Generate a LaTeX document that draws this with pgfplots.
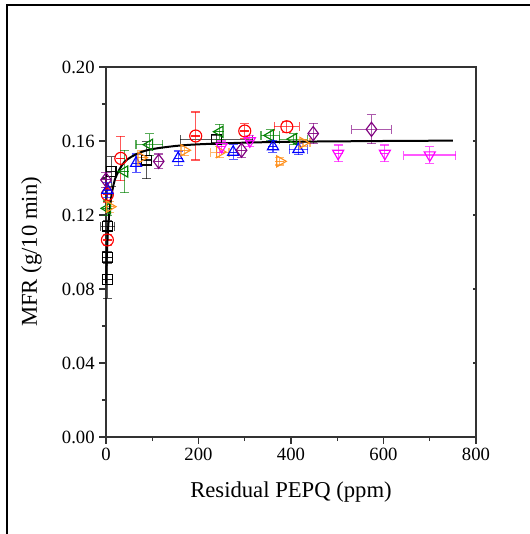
\documentclass[border=0pt]{standalone}
\usepackage{fontspec}
\setmainfont{Liberation Serif}
\usepackage{pgfplots}
\pgfplotsset{compat=1.18}
\definecolor{cred}{RGB}{255,0,0}
\definecolor{cgreen}{RGB}{0,128,0}
\definecolor{cblue}{RGB}{0,0,255}
\definecolor{corange}{RGB}{255,145,30}
\definecolor{cpurple}{RGB}{128,0,128}
\definecolor{cmag}{RGB}{255,0,255}
\pgfplotsset{
  ser/.style={only marks, line width=0.85pt, mark options={solid, line width=0.85pt, fill=none},
    error bars/x dir=both, error bars/x explicit, error bars/y dir=both, error bars/y explicit,
    error bars/error bar style={line width=0.85pt, opacity=0.65},
    error bars/error mark options={rotate=90, mark size=3.4pt, line width=0.85pt, opacity=0.65}},
}
\begin{document}
\begin{tikzpicture}
\useasboundingbox (-79.5pt,-72.75pt) rectangle (317.25pt,327.75pt);
\draw[line width=1.5pt] (-74.25pt,-80pt) -- (-74.25pt,324pt) -- (330pt,324pt);
\begin{axis}[at={(0,0)}, anchor=south west, scale only axis,
  width=277.5pt, height=277.5pt,
  xmin=0, xmax=800, ymin=0, ymax=0.2,
  xtick={0,200,400,600,800}, ytick={0,0.04,0.08,0.12,0.16,0.2},
  minor x tick num=1, minor y tick num=1,
  tick align=outside, xtick pos=left, ytick pos=left,
  major tick length=5pt, minor tick length=3pt,
  tick style={line width=0.8pt, color=black!80},
  axis line style={line width=0.9pt, color=black!80},
  scaled y ticks=false,
  yticklabel style={/pgf/number format/fixed, /pgf/number format/fixed zerofill, /pgf/number format/precision=2},
  /pgf/number format/assume math mode=true,
  ticklabel style={font=\fontsize{14}{16}\selectfont},
  label style={font=\fontsize{17}{20}\selectfont},
  xlabel={Residual PEPQ (ppm)}, ylabel={MFR (g/10 min)},
  xlabel style={at={(axis description cs:0.5,-0.1477)}, anchor=center},
  ylabel style={at={(axis description cs:-0.2018,0.5)}, anchor=center},
  clip=false,
]
% black squares
\addplot[ser, color=black, mark=square, mark size=3.7pt] table[x=x,y=y,x error=ex,y error=ey] {
x y ex ey
3 0.085 0 0.010
3 0.097 0 0.003
4 0.114 15 0.003
11 0.1434 0 0.008
87 0.1497 0 0.010
239 0.161 78 0.002
};
% red circles
\addplot[ser, color=cred, mark=o, mark size=4.5pt] table[x=x,y=y,x error=ex,y error=ey] {
x y ex ey
3 0.1065 0 0.003
3 0.131 0 0.004
32 0.1506 0 0.012
194 0.1627 0 0.013
300 0.1654 0 0.004
391 0.1677 27 0.003
};
% green left triangles
\addplot[ser, color=cgreen, mark=triangle, mark size=4.8pt, mark options={rotate=90}] table[x=x,y=y,x error=ex,y error=ey] {
x y ex ey
3 0.1236 0 0.004
40 0.1435 0 0.0115
94 0.158 29 0.006
246 0.165 0 0.004
355 0.163 20 0.003
405 0.161 30 0.003
};
% blue up triangles
\addplot[ser, color=cblue, mark=triangle, mark size=4.8pt] table[x=x,y=y,x error=ex,y error=ey] {
x y ex ey
3 0.1335 0 0.004
65 0.148 0 0.005
156 0.1506 0 0.004
275 0.154 0 0.004
361 0.157 0 0.003
416 0.1555 20 0.003
};
% orange right triangles
\addplot[ser, color=corange, mark=triangle, mark size=4.8pt, mark options={rotate=-90}] table[x=x,y=y,x error=ex,y error=ey] {
x y ex ey
8 0.1245 0 0.003
76 0.151 0 0.004
169 0.155 0 0.003
246 0.154 20 0.003
376 0.149 0 0.002
426 0.159 15 0.002
};
% purple diamonds
\addplot[ser, color=cpurple, mark=diamond, mark size=5.3pt] table[x=x,y=y,x error=ex,y error=ey] {
x y ex ey
0 0.139 0 0.004
114 0.149 0 0.004
293 0.155 0 0.004
448 0.164 0 0.0055
574 0.1663 43 0.0078
};
% magenta down triangles
\addplot[ser, color=cmag, mark=triangle, mark size=4.8pt, mark options={rotate=180}] table[x=x,y=y,x error=ex,y error=ey] {
x y ex ey
250 0.157 0 0.003
311 0.160 0 0.003
502 0.1533 0 0.0045
603 0.1533 0 0.0045
700 0.1524 56 0.0045
};
% fit curve
\addplot[black, line width=1.5pt, smooth, no marks] coordinates {
(0,0.083) (2,0.0994) (5,0.1142) (10,0.1276) (20,0.1397) (40,0.1487) (70,0.1534) (100,0.1556) (150,0.1573) (200,0.1582) (300,0.1591) (400,0.1596) (500,0.1598) (600,0.1600) (750,0.1602)
};
\end{axis}
\begin{axis}[at={(0,0)}, anchor=south west, scale only axis,
  width=277.5pt, height=277.5pt,
  xmin=0, xmax=800, ymin=0, ymax=0.2,
  axis y line*=right, axis x line=none,
  ytick={0,0.04,0.08,0.12,0.16,0.2}, yticklabels={},
  tick align=inside, major tick length=2.5pt,
  tick style={line width=0.8pt, color=black!80},
  axis line style={line width=0.9pt, color=black!80},
]
\end{axis}
\draw[line width=0.9pt, color=black!80] (0,277.5pt) -- (277.5pt,277.5pt);
\end{tikzpicture}
\end{document}
